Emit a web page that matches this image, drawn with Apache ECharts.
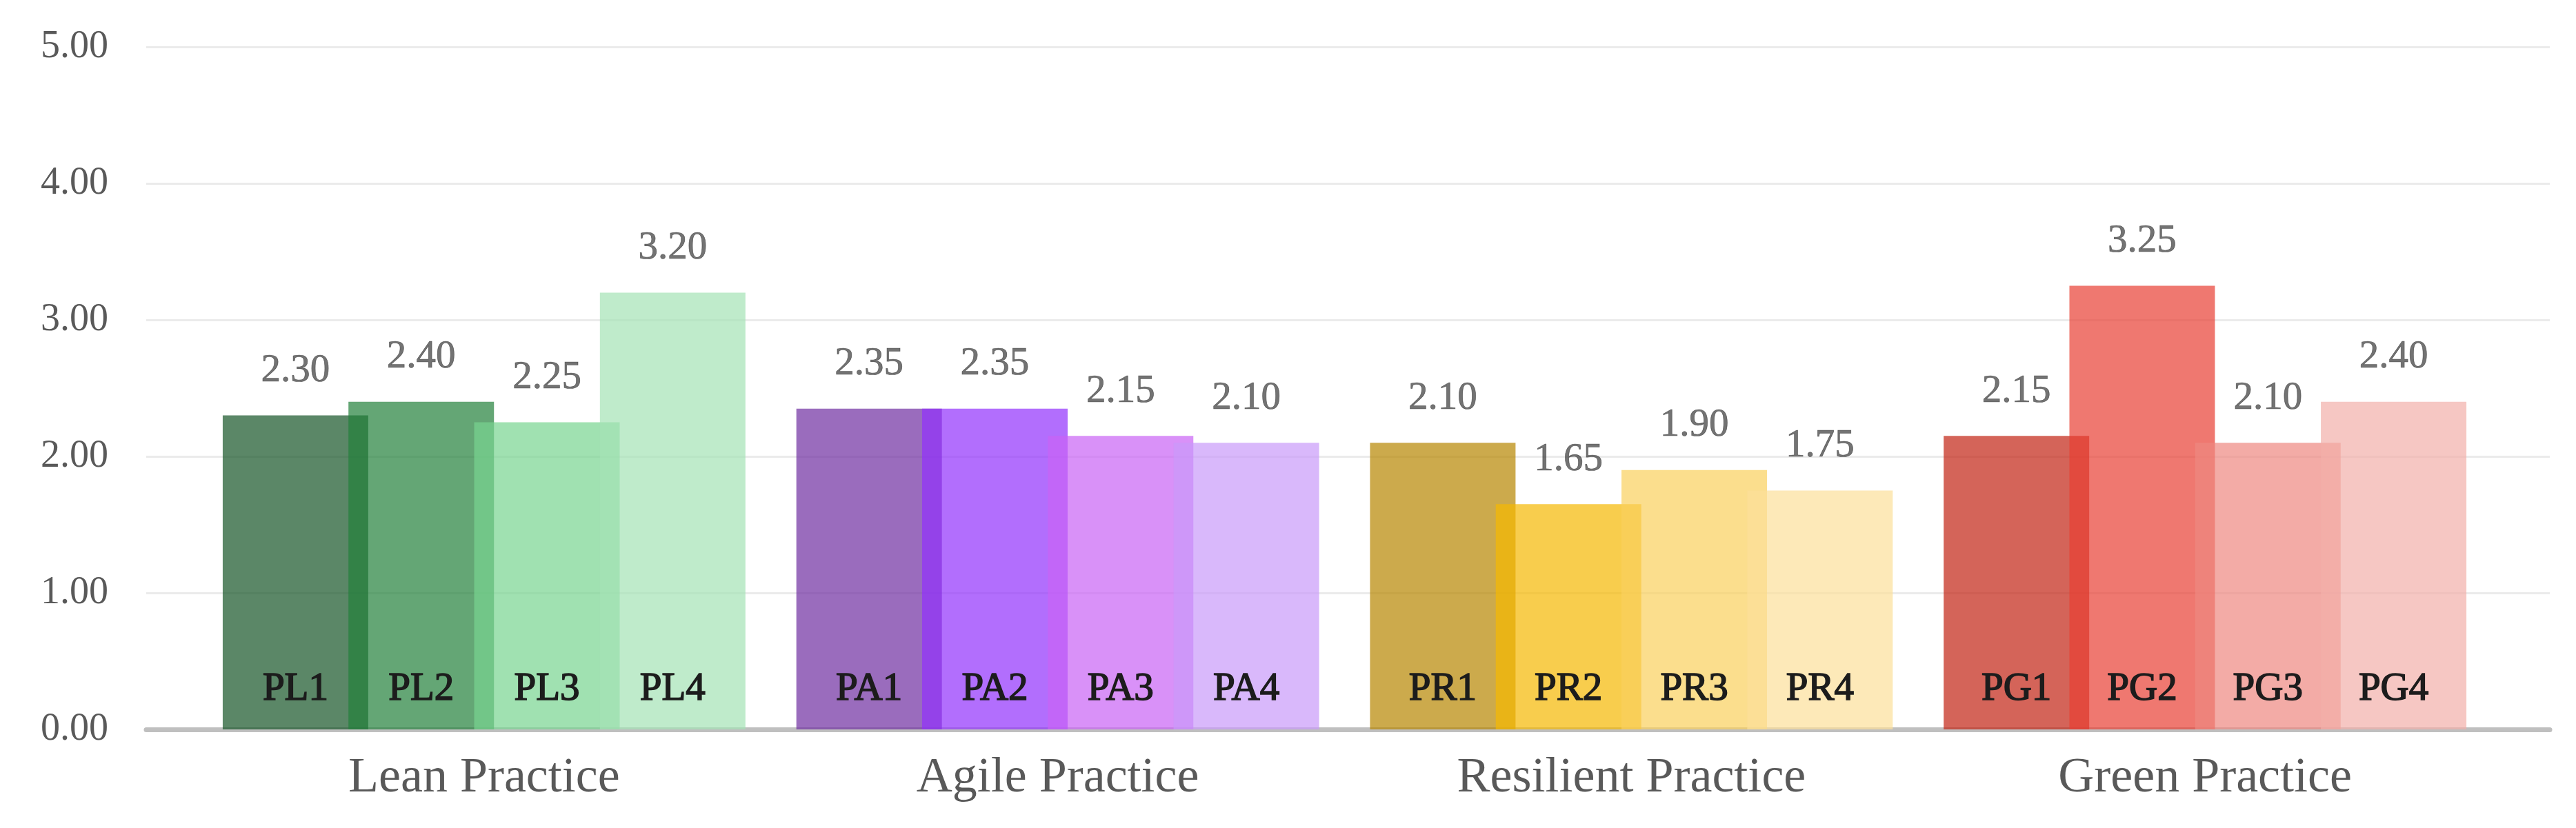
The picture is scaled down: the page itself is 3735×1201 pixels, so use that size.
<!DOCTYPE html>
<html><head><meta charset="utf-8">
<script src="https://cdn.jsdelivr.net/npm/echarts@6/dist/echarts.min.js"></script>
<style>html,body{margin:0;padding:0;background:#fff}#c{width:3735px;height:1201px}</style>
</head><body><div id="c"></div>
<script>
// ---- data ----
const categories = ['Lean Practice', 'Agile Practice', 'Resilient Practice', 'Green Practice'];
const item1Values = [2.30, 2.35, 2.10, 2.15];
const item2Values = [2.40, 2.35, 1.65, 3.25];
const item3Values = [2.25, 2.15, 1.90, 2.10];
const item4Values = [3.20, 2.10, 1.75, 2.40];
const item1Codes = ['PL1', 'PA1', 'PR1', 'PG1'];
const item2Codes = ['PL2', 'PA2', 'PR2', 'PG2'];
const item3Codes = ['PL3', 'PA3', 'PR3', 'PG3'];
const item4Codes = ['PL4', 'PA4', 'PR4', 'PG4'];
const yMin = 0, yMax = 5, yStep = 1;

// ---- styles ----
const palette = [
  ['#165426', '#22803b', '#77d490', '#a4e2b5'],
  ['#6f2da1', '#9231fc', '#c962f5', '#c99af9'],
  ['#b68600', '#f5b802', '#f9d05c', '#fce09a'],
  ['#c22212', '#e83e33', '#ee8780', '#f2afa9']
];
const FONT = 'Liberation Serif';
const BAR_W = 211;
const BAR_GAP = '-13.6%';

const valueSets = [item1Values, item2Values, item3Values, item4Values];
const codeSets = [item1Codes, item2Codes, item3Codes, item4Codes];

const series = [];
valueSets.forEach((vals, k) => {
  series.push({
    type: 'bar', xAxisIndex: 1, yAxisIndex: 1,
    barWidth: BAR_W, barGap: BAR_GAP,
    data: vals.map((v, i) => ({ value: v, itemStyle: { color: palette[i][k], opacity: 0.7 } })),
    label: {
      show: true, position: 'top', distance: 36,
      formatter: p => p.value.toFixed(2),
      fontFamily: FONT, fontSize: 57, color: '#383838',
      textBorderColor: '#383838', textBorderWidth: 0.7
    },
    z: 2
  });
});
valueSets.forEach((vals, k) => {
  series.push({
    type: 'bar', xAxisIndex: 2, yAxisIndex: 1, silent: true,
    barWidth: BAR_W, barGap: BAR_GAP,
    data: vals,
    itemStyle: { color: 'rgba(0,0,0,0)' },
    label: {
      show: true, position: 'insideBottom', distance: 29,
      formatter: p => codeSets[k][p.dataIndex],
      fontFamily: FONT, fontSize: 57, fontWeight: 'normal', color: '#1c1c1c',
      textBorderColor: '#1c1c1c', textBorderWidth: 1.6
    },
    z: 4
  });
});

const chart = echarts.init(document.getElementById('c'), null, { renderer: 'canvas' });
chart.setOption({
  animation: false,
  backgroundColor: '#ffffff',
  grid: [
    { left: 212, right: 38, top: 68, bottom: 143 },
    { left: 286, right: 122, top: 68, bottom: 143 }
  ],
  xAxis: [
    { type: 'category', gridIndex: 0, data: categories, offset: 3,
      axisLine: { show: true, lineStyle: { color: '#bfbfbf', width: 7 } },
      axisTick: { show: false }, axisLabel: { show: false } },
    { type: 'category', gridIndex: 1, data: categories,
      axisLine: { show: false }, axisTick: { show: false },
      axisLabel: { fontFamily: FONT, fontSize: 72, color: '#595959', margin: 35 } },
    { type: 'category', gridIndex: 1, data: categories, position: 'top', show: false }
  ],
  yAxis: [
    { type: 'value', gridIndex: 0, min: yMin, max: yMax, interval: yStep,
      axisLine: { show: false }, axisTick: { show: false },
      axisLabel: { fontFamily: FONT, fontSize: 56, color: '#595959', margin: 55,
                   formatter: v => v.toFixed(2) },
      splitLine: { lineStyle: { color: '#ebebeb', width: 3 } } },
    { type: 'value', gridIndex: 1, min: yMin, max: yMax, interval: yStep, show: false,
      splitLine: { show: false } }
  ],
  series: series
});
</script>
</body></html>
